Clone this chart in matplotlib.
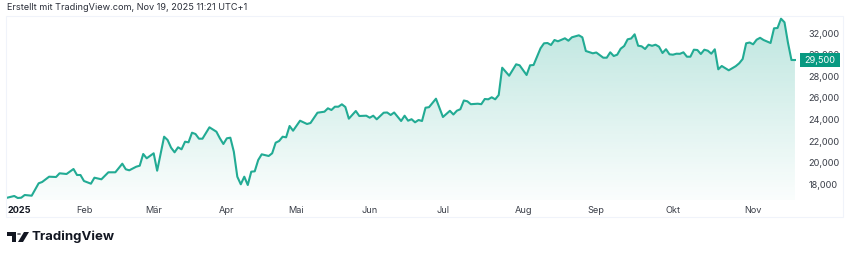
import numpy as np
import pandas as pd
import matplotlib
matplotlib.use("Agg")
import matplotlib.pyplot as plt
from matplotlib.patches import Rectangle, Polygon, Circle
from matplotlib.transforms import blended_transform_factory

plt.rcParams['font.family'] = ['Inter', 'DejaVu Sans']

# trading day number (0 = 2 Jan 2025, Xetra calendar) and close
day = [0, 2, 3, 4, 5, 7, 9, 10, 12, 14, 15, 17, 19, 20, 21, 22, 24, 25, 27, 29,
       31, 33, 34, 35, 37, 38, 39, 40, 42, 43, 45, 46, 47, 48, 49, 50, 51, 52, 53, 54,
       55, 56, 58, 60, 61, 62, 63, 64, 65, 66, 67, 68, 69, 70, 71, 72, 73, 75, 76, 77,
       78, 79, 80, 81, 82, 84, 86, 87, 89, 91, 92, 93, 94, 95, 96, 97, 98, 100, 101, 103,
       104, 105, 106, 108, 109, 110, 111, 112, 113, 114, 115, 116, 117, 118, 119, 120, 121, 123, 125, 127,
       128, 129, 130, 131, 132, 133, 135, 136, 137, 138, 139, 140, 141, 142, 144, 146, 147, 149, 150, 151,
       153, 154, 155, 156, 157, 158, 160, 161, 162, 164, 165, 166, 168, 169, 171, 172, 173, 174, 175, 176,
       177, 178, 179, 180, 181, 182, 183, 184, 185, 186, 187, 188, 189, 190, 191, 192, 193, 194, 195, 196,
       197, 198, 199, 200, 201, 202, 203, 204, 205, 207, 209, 210, 211, 212, 213, 214, 215, 216, 217, 219,
       220, 221, 222, 223, 224, 225, 226]
close = [16760, 16917, 16731, 16760, 17009, 16944, 18093, 18213, 18704, 18676, 19019, 18954, 19417, 18861, 18861, 18306, 18056, 18611, 18463, 19111,
         19111, 19908, 19389, 19296, 19630, 19722, 20806, 20408, 20871, 19259, 22408, 22102, 21389, 20963, 21426, 21241, 21945, 21889, 22778, 22658,
         22223, 22223, 23278, 22871, 22260, 21732, 22260, 22315, 21019, 18704, 18000, 18704, 17935, 19167, 19204, 20250, 20778, 20621, 20871, 21852,
         22010, 22408, 22352, 23399, 22963, 23889, 23584, 23676, 24630, 24723, 25038, 24880, 25186, 25186, 25408, 25158, 24075, 24788, 24325, 24352,
         24167, 24352, 24019, 24630, 24649, 24417, 24649, 24260, 23862, 24352, 23889, 24028, 23741, 23954, 23862, 25093, 25139, 25927, 24232, 24806,
         24463, 24815, 24954, 25760, 25686, 25417, 25464, 25417, 25899, 25871, 26056, 25871, 26269, 28797, 28056, 29112, 29019, 28121, 29019, 29047,
         30594, 31057, 31084, 30899, 31362, 31242, 31520, 31297, 31612, 31797, 31612, 30344, 30131, 30205, 29723, 29723, 30223, 29880, 30001, 30557,
         30807, 31427, 31501, 31890, 30834, 30779, 30529, 30927, 30825, 30927, 30742, 30158, 30510, 30038, 30001, 30094, 30084, 30223, 29816, 29816,
         30464, 30436, 30066, 30464, 30371, 30094, 30501, 28649, 28955, 28556, 28936, 29205, 29603, 31057, 31131, 30964, 31390, 31566, 31362, 31084,
         32446, 32474, 33335, 33001, 31103, 29510, 29510]

month_labels = ['2025', 'Feb', 'Mär', 'Apr', 'Mai', 'Jun', 'Jul', 'Aug', 'Sep', 'Okt', 'Nov']
price_ticks = [18000, 20000, 22000, 24000, 26000, 28000, 30000, 32000]
last_label = '29,500'
holidays = ['2025-04-18', '2025-04-21', '2025-05-01']

cal = pd.bdate_range('2025-01-02', '2025-11-19', freq='C', holidays=holidays)
month_pos = [int(np.argmax(cal.month == m)) for m in range(1, 12)]

line_col = '#22ab94'
txt_col = '#3a3e48'

W, H = 850, 256
fig = plt.figure(figsize=(W / 100, H / 100), dpi=100)
ax = fig.add_axes([6 / W, 1 - 200 / H, 794 / W, 184 / H])

ymin, ymax = 16546, 33585
ax.set_xlim(-0.37, len(cal) + 0.45)
ax.set_ylim(ymin, ymax)

# gradient area under the line
x = np.array(day, dtype=float)
y = np.array(close, dtype=float)
poly = Polygon(np.column_stack([np.r_[x, x[-1], x[0]], np.r_[y, ymin, ymin]]),
               closed=True, facecolor='none', edgecolor='none')
ax.add_patch(poly)
n = 256
grad = np.zeros((n, 1, 4))
grad[:, 0, 0] = 34 / 255
grad[:, 0, 1] = 171 / 255
grad[:, 0, 2] = 148 / 255
grad[:, 0, 3] = np.linspace(0.02, 0.30, n)
im = ax.imshow(grad, extent=[x[0], x[-1], ymin, y.max()], origin='lower',
               aspect='auto', interpolation='bilinear', zorder=1)
im.set_clip_path(poly)

ax.plot(x, y, color=line_col, lw=1.5, solid_joinstyle='round', zorder=3)

for s in ax.spines.values():
    s.set_visible(False)

ax.yaxis.tick_right()
ax.set_yticks(price_ticks)
ax.set_yticklabels([f'{v:,}' for v in price_ticks])
ax.tick_params(axis='y', length=0, pad=6, labelsize=6.6, labelcolor=txt_col)

ax.set_xticks(month_pos)
ax.set_xticklabels(month_labels)
ax.tick_params(axis='x', length=0, pad=4.5, labelsize=6.6, labelcolor=txt_col)
lab0 = ax.get_xticklabels()[0]
lab0.set_fontweight('bold')
lab0.set_horizontalalignment('left')
lab0.set_color('#131722')

# last price tag
tr = blended_transform_factory(ax.transAxes, ax.transData)
px = (ymax - ymin) / 184
ax.add_patch(Rectangle((1.0, close[-1] - 7 * px), 40 / 794, 14 * px, transform=tr,
                       facecolor='#089981', edgecolor='none', clip_on=False, zorder=5))
ax.text(1.0 + 20 / 794, close[-1], last_label, transform=tr, ha='center', va='center',
        color='white', fontsize=6.6, zorder=6, clip_on=False)

# pane border
fig.patches.append(Rectangle((6 / W, 1 - 217 / H), 837 / W, 201 / H, transform=fig.transFigure,
                             facecolor='none', edgecolor='#f0f3fa', lw=0.8))

fig.text(7 / W, 1 - 8 / H, 'Erstellt mit TradingView.com, Nov 19, 2025 11:21 UTC+1',
         fontsize=6.6, color='#2a2e39', va='center', ha='left')

# TradingView logo
def fp(px_x, px_y):
    return (px_x / W, 1 - px_y / H)

logo = '#131722'
fig.patches.append(Polygon([fp(7, 232), fp(16, 232), fp(16, 242), fp(12, 242), fp(12, 236), fp(7, 236)],
                           closed=True, transform=fig.transFigure, facecolor=logo, edgecolor='none'))
fig.patches.append(Circle(fp(19, 234), 2.0 / W, transform=fig.transFigure, facecolor=logo, edgecolor='none'))
fig.patches.append(Polygon([fp(24, 232), fp(29, 232), fp(23, 242), fp(18, 242)],
                           closed=True, transform=fig.transFigure, facecolor=logo, edgecolor='none'))
fig.text(32 / W, 1 - 237 / H, 'TradingView', fontsize=9.5, fontweight='bold', color=logo,
         va='center', ha='left')

fig.savefig('out.png', dpi=100, facecolor='white')
